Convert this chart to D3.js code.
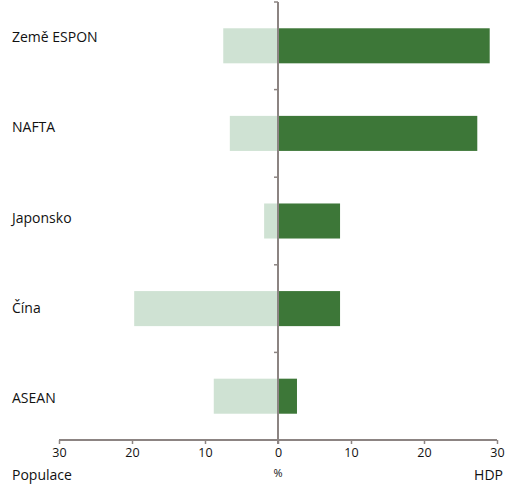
<!DOCTYPE html>
<html><head><meta charset="utf-8">
<script src="https://cdn.jsdelivr.net/npm/d3@7"></script>
<style>body{margin:0;background:#fff}svg{display:block}text{font-family:"Open Sans",sans-serif;fill:#111}</style>
</head><body><svg id="c" width="506" height="485"></svg>
<script>
const categories = ["Země ESPON","NAFTA","Japonsko","Čína","ASEAN"];
const populace = [7.5, 6.6, 1.9, 19.7, 8.8];
const hdp = [29.0, 27.3, 8.5, 8.5, 2.6];
const tickValues = [-30,-20,-10,0,10,20,30];

const svg = d3.select("#c");
const x = d3.scaleLinear().domain([-30,30]).range([59,497]);
const y = d3.scaleBand().domain(categories).range([2,440]).paddingInner(0.6).paddingOuter(0.3);
const yLabel = d3.scalePoint().domain(categories).range([42,403]);
const axisCol = "#8c8482";

svg.selectAll("rect.pop").data(categories).join("rect")
  .attr("x",(d,i)=>x(-populace[i])).attr("y",d=>y(d))
  .attr("width",(d,i)=>x(0)-x(-populace[i])).attr("height",y.bandwidth())
  .attr("fill","#cfe2d3");
svg.selectAll("rect.hdp").data(categories).join("rect")
  .attr("x",x(0)).attr("y",d=>y(d))
  .attr("width",(d,i)=>x(hdp[i])-x(0)).attr("height",y.bandwidth())
  .attr("fill","#3d7738");

// bottom axis
const xa = svg.append("g").attr("transform","translate(0,440)")
  .call(d3.axisBottom(x).tickValues(tickValues).tickSize(4).tickFormat(d=>Math.abs(d)));
xa.select(".domain").attr("stroke",axisCol).attr("stroke-width",2).attr("d","M59,0H497");
xa.selectAll(".tick line").attr("stroke",axisCol).attr("stroke-width",1.5);
xa.selectAll(".tick text").attr("y",8).attr("font-size",12.5).attr("font-family","Open Sans").attr("fill","#111");

// vertical axis at zero
svg.append("line").attr("x1",x(0)).attr("x2",x(0)).attr("y1",2).attr("y2",444)
  .attr("stroke",axisCol).attr("stroke-width",2);
const tickYs = d3.range(categories.length).map(i=>2+i*y.step());
svg.selectAll("line.yt").data(tickYs).join("line")
  .attr("x1",x(0)-4).attr("x2",x(0)).attr("y1",d=>d).attr("y2",d=>d)
  .attr("stroke",axisCol).attr("stroke-width",1.5);

// category labels
svg.selectAll("text.cat").data(categories).join("text")
  .attr("x",12).attr("y",d=>yLabel(d)).attr("font-size",14).text(d=>d);

svg.append("text").attr("x",12).attr("y",480).attr("font-size",14).text("Populace");
svg.append("text").attr("x",x(0)).attr("y",477).attr("text-anchor","middle").attr("font-size",11).text("%");
svg.append("text").attr("x",503).attr("y",480).attr("text-anchor","end").attr("font-size",14).text("HDP");
</script></body></html>
